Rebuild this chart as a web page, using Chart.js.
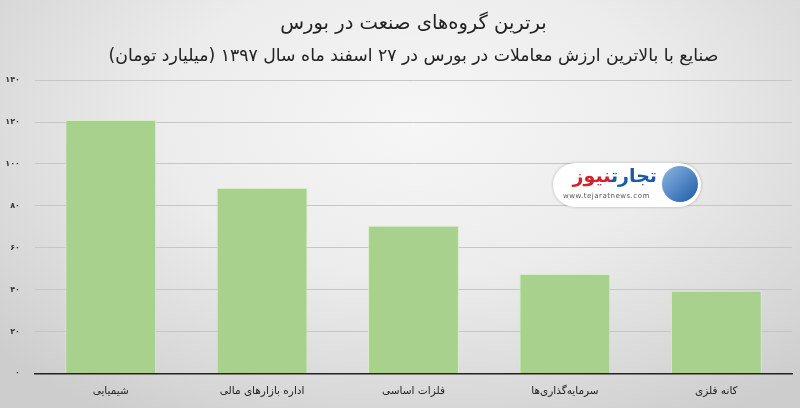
<!DOCTYPE html>
<html>
<head>
<meta charset="utf-8">
<script src="https://cdn.jsdelivr.net/npm/chart.js@4"></script>
<style>
  html, body { margin: 0; padding: 0; }
  #wrap {
    position: relative; width: 800px; height: 408px;
    background: radial-gradient(ellipse 70% 85% at 52% 30%, #f6f6f6 0%, #ececec 45%, #d6d6d6 85%, #cdcdcd 100%);
  }
  canvas { direction: rtl; }
  #logo {
    position: absolute; left: 553px; top: 163px; width: 148px; height: 44px;
    background: #fff; border-radius: 22px; box-shadow: 0 0 3px rgba(0,0,0,0.25);
    font-family: 'DejaVu Sans', sans-serif; direction: rtl;
  }
  #logo .ic {
    position: absolute; right: 3px; top: 3px; width: 36px; height: 36px; border-radius: 50%;
    background: linear-gradient(135deg, #8fb7e4, #1c5aa6);
  }
  #logo .nm { position: absolute; right: 44px; top: 1px; font-size: 19px; font-weight: bold; white-space: nowrap; }
  #logo .url { position: absolute; left: 10px; top: 29px; font-size: 7px; color: #555; direction: ltr; letter-spacing: 0.5px; }
</style>
</head>
<body>
<div id="wrap">
  <canvas id="chart" width="800" height="408"></canvas>
  <div id="logo">
    <div class="ic"></div>
    <div class="nm"><span style="color:#1c5aa6">تجارت</span><span style="color:#d4202c">نیوز</span></div>
    <div class="url">www.tejaratnews.com</div>
  </div>
</div>
<script>
const categories = ["شیمیایی", "اداره بازارهای مالی", "فلزات اساسی", "سرمایه‌گذاری‌ها", "کانه فلزی"];
const tradeValues = [121, 88.5, 70.5, 47.5, 39.5];
const yTickLabels = ["۰", "۲۰", "۴۰", "۶۰", "۸۰", "۱۰۰", "۱۲۰", "۱۴۰"];

Chart.defaults.font.family = "'DejaVu Sans', sans-serif";

new Chart(document.getElementById("chart").getContext("2d"), {
  type: "bar",
  data: {
    labels: categories,
    datasets: [{
      data: tradeValues,
      backgroundColor: "#a9d18e",
      borderColor: "#d9ecca",
      borderWidth: 1,
      barPercentage: 0.6,
      categoryPercentage: 1
    }]
  },
  options: {
    responsive: false,
    animation: false,
    layout: { padding: { left: 0, right: 8, bottom: 6 } },
    plugins: {
      legend: { display: false },
      tooltip: { enabled: false },
      title: {
        display: true,
        fullSize: false,
        text: "برترین گروه‌های صنعت در بورس",
        color: "#222",
        font: { size: 19.5, weight: "normal" },
        padding: { top: 12, bottom: 6 }
      },
      subtitle: {
        display: true,
        fullSize: false,
        text: "صنایع با بالاترین ارزش معاملات در بورس در ۲۷ اسفند ماه سال ۱۳۹۷ (میلیارد تومان)",
        color: "#222",
        font: { size: 17.3 },
        padding: { top: 5, bottom: 13 }
      }
    },
    scales: {
      x: {
        grid: { display: false },
        border: { color: "#222", width: 1.5 },
        ticks: { color: "#222", font: { size: 10.5 }, padding: 4 }
      },
      y: {
        min: 0,
        max: 140,
        grid: { color: "#c6c6c6", drawTicks: false },
        border: { display: false },
        afterFit: (scale) => { scale.width = 35; },
        ticks: {
          stepSize: 20,
          color: "#333",
          font: { size: 8, weight: "bold" },
          padding: 15,
          callback: (v, i) => yTickLabels[i]
        }
      }
    }
  }
});
</script>
</body>
</html>
